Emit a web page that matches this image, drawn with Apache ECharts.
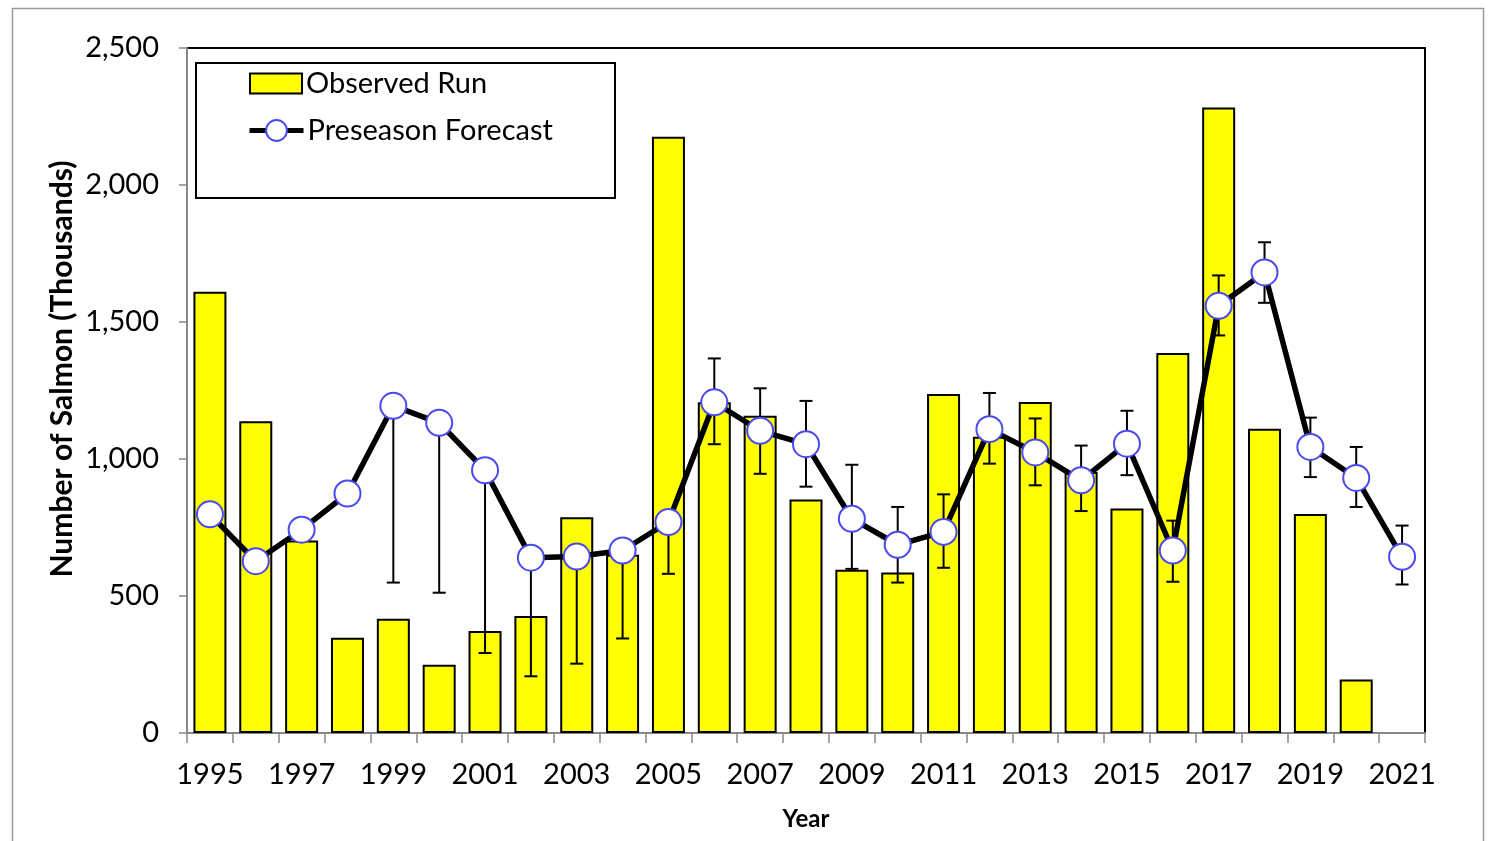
<!DOCTYPE html>
<html>
<head>
<meta charset="utf-8">
<script src="https://cdn.jsdelivr.net/npm/echarts@6/dist/echarts.min.js"></script>
<style>html,body{margin:0;padding:0;background:#fff;}#c{width:1491px;height:841px;}</style>
</head>
<body>
<div id="c"></div>
<script>
const years = ['1995','1996','1997','1998','1999','2000','2001','2002','2003','2004','2005','2006','2007','2008','2009','2010','2011','2012','2013','2014','2015','2016','2017','2018','2019','2020','2021'];
const observedRun = [1610,1138,703,348,417,249,372,427,787,651,2176,1207,1158,852,596,586,1237,1081,1208,953,819,1387,2283,1110,799,195,null];
const forecast = [798,627,742,874,1194,1132,959,640,644,666,770,1207,1103,1054,782,687,734,1109,1024,922,1056,666,1559,1681,1044,931,643];
const errLow  = [null,null,null,null,549,512,292,207,253,345,581,1054,946,899,599,549,603,983,904,810,941,552,1451,1570,934,825,542];
const errHigh = [null,null,null,null,null,null,null,null,null,null,null,1367,1258,1212,979,825,871,1241,1148,1049,1176,775,1670,1791,1151,1044,757];
const yTicks = [0,500,1000,1500,2000,2500];

const FONT = 'Lato';
const chart = echarts.init(document.getElementById('c'));

function errItem(params, api) {
  const i = params.dataIndex;
  const children = [];
  const mid = api.coord([i, forecast[i]]);
  const capHalf = 6.5;
  const style = {stroke: '#000', lineWidth: 2};
  if (errLow[i] != null) {
    const p = api.coord([i, errLow[i]]);
    children.push({type: 'line', shape: {x1: mid[0], y1: mid[1], x2: p[0], y2: p[1]}, style});
    children.push({type: 'line', shape: {x1: p[0] - capHalf, y1: p[1], x2: p[0] + capHalf, y2: p[1]}, style});
  }
  if (errHigh[i] != null) {
    const p = api.coord([i, errHigh[i]]);
    children.push({type: 'line', shape: {x1: mid[0], y1: mid[1], x2: p[0], y2: p[1]}, style});
    children.push({type: 'line', shape: {x1: p[0] - capHalf, y1: p[1], x2: p[0] + capHalf, y2: p[1]}, style});
  }
  return {type: 'group', children};
}

const legendText = {fontFamily: FONT, fontSize: 29, color: '#000', padding: [0, 0, 0, -1]};

chart.setOption({
  animation: false,
  backgroundColor: '#fff',
  textStyle: {fontFamily: FONT},
  grid: {left: 187, right: 66, top: 48, bottom: 108, show: true, borderColor: '#000', borderWidth: 2, backgroundColor: 'transparent'},
  legend: [
    {
      data: [{name: 'Observed Run', icon: 'rect'}],
      left: 249, top: 69, padding: 0,
      itemWidth: 52, itemHeight: 20,
      textStyle: legendText,
      selectedMode: false, z: 20
    },
    {
      data: [{name: 'Preseason Forecast', lineStyle: {width: 5, color: '#000'}}],
      left: 247, top: 116, padding: 0,
      itemWidth: 54, itemHeight: 26,
      textStyle: legendText,
      selectedMode: false, z: 20
    }
  ],
  xAxis: {
    type: 'category',
    data: years,
    boundaryGap: true,
    axisLine: {show: true, lineStyle: {color: '#888', width: 2}},
    axisTick: {show: true, interval: 0, length: 10, lineStyle: {color: '#888', width: 1.5}},
    axisLabel: {interval: 1, fontFamily: FONT, fontSize: 29, color: '#000', margin: 27}
  },
  yAxis: {
    type: 'value',
    min: 0, max: 2500, interval: 500,
    splitLine: {show: false},
    axisLine: {show: true, lineStyle: {color: '#888', width: 2}},
    axisTick: {show: true, length: 8, lineStyle: {color: '#888', width: 1.5}},
    axisLabel: {fontFamily: FONT, fontSize: 29, color: '#000', margin: 28,
      formatter: v => yTicks.includes(v) ? v.toLocaleString('en-US') : ''}
  },
  graphic: [
    {type: 'rect', left: 10, top: 6, shape: {width: 1471, height: 850}, style: {fill: 'none', stroke: '#999', lineWidth: 1.5}, z: -1, silent: true},
    {type: 'rect', left: 195, top: 62, shape: {width: 419, height: 135}, style: {fill: '#fff', stroke: '#000', lineWidth: 2}, z: 1, silent: true},
    {type: 'text', x: 62, y: 369, rotation: Math.PI / 2, style: {text: 'Number of Salmon (Thousands)', fontFamily: FONT, fontWeight: 'bold', fontSize: 30, fill: '#000', align: 'center', verticalAlign: 'middle'}, silent: true},
    {type: 'text', x: 806, y: 819, style: {text: 'Year', fontFamily: FONT, fontWeight: 'bold', fontSize: 24, fill: '#000', align: 'center', verticalAlign: 'middle'}, silent: true}
  ],
  series: [
    {
      name: 'Observed Run',
      type: 'bar',
      data: observedRun,
      barWidth: 33,
      itemStyle: {color: '#FFFF00', borderColor: '#000', borderWidth: 2},
      z: 2
    },
    {
      name: 'Errors',
      type: 'custom',
      renderItem: errItem,
      data: years.map((y, i) => [i, forecast[i]]),
      z: 3,
      silent: true
    },
    {
      name: 'Preseason Forecast',
      type: 'line',
      data: forecast,
      symbol: 'circle',
      symbolSize: 26,
      lineStyle: {color: '#000', width: 5.5},
      itemStyle: {color: '#fff', borderColor: '#4a4af0', borderWidth: 2},
      z: 4
    }
  ]
});
</script>
</body>
</html>
